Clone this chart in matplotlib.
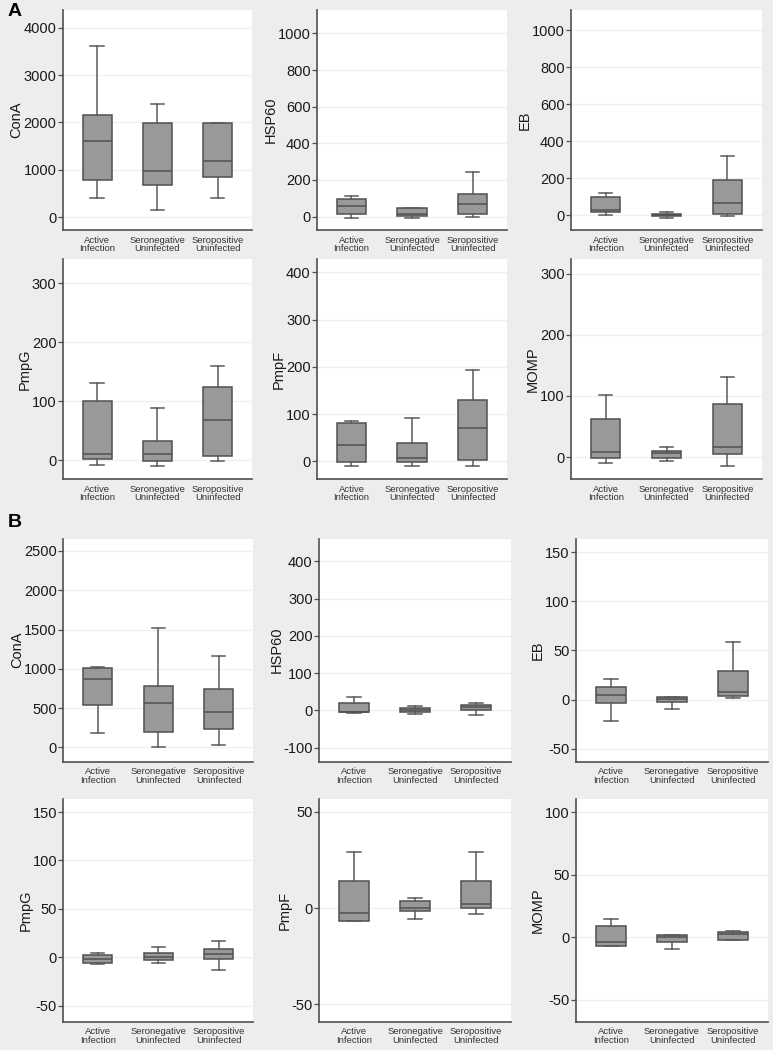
import numpy as np
import matplotlib
matplotlib.use("Agg")
import matplotlib.pyplot as plt

plt.rcParams['font.family'] = ['Liberation Sans', 'DejaVu Sans']

groups = ["Active\nInfection", "Seronegative\nUninfected", "Seropositive\nUninfected"]
markers = ["ConA", "HSP60", "EB", "PmpG", "PmpF", "MOMP"]

# box stats per group: (whisker low, q1, median, q3, whisker high)
A_ConA = [(395, 790, 1601, 2166, 3626), (141, 670, 966, 1989, 2392), (409, 853, 1192, 1980, 1995)]
A_HSP60 = [(-9, 16, 58, 95, 110), (-7, 4, 13, 46, 48), (-2, 16, 68, 121, 245)]
A_EB = [(2, 18, 27, 96, 119), (-14, -4, 0, 5, 18), (-5, 9, 65, 190, 322)]
A_PmpG = [(-8, 2, 11, 101, 131), (-10, -1, 10, 33, 88), (-1, 8, 68, 125, 159)]
A_PmpF = [(-10, -1, 35, 81, 85), (-10, -1, 7, 40, 92), (-10, 4, 70, 129, 193)]
A_MOMP = [(-9, -2, 9, 62, 101), (-7, -1, 6, 10, 16), (-15, 5, 16, 87, 131)]

B_ConA = [(183, 544, 872, 1016, 1020), (0, 191, 570, 782, 1514), (34, 230, 451, 748, 1165)]
B_HSP60 = [(-8, -4, -3, 21, 35), (-9, -3, 1, 6, 13), (-13, 1, 8, 14, 21)]
B_EB = [(-21.6, -3.8, 5, 13, 20.5), (-9.2, -2.7, 0.3, 2.4, 2.4), (1.7, 3.4, 7.9, 29.5, 58.6)]
B_PmpG = [(-6.8, -6.5, -2, 2.4, 4.8), (-5.8, -2.7, 0.3, 3.8, 10.3), (-13.7, -1.7, 3.1, 8.2, 17.1)]
B_PmpF = [(-6.8, -6.8, -2.6, 13.9, 29.4), (-5.7, -1.6, 0.3, 3.8, 5.2), (-3.1, -0.2, 2.3, 13.9, 29.4)]
B_MOMP = [(-7.4, -7.4, -4, 8.5, 14.6), (-9.3, -4, -0.3, 1.6, 1.6), (-2.7, -2.1, 2.4, 3.7, 4.8)]

A_ticks = [list(range(0, 4001, 1000)), list(range(0, 1001, 200)), list(range(0, 1001, 200)),
           list(range(0, 301, 100)), list(range(0, 401, 100)), list(range(0, 301, 100))]
B_ticks = [list(range(0, 2501, 500)), list(range(-100, 401, 100)), list(range(-50, 151, 50)),
           list(range(-50, 151, 50)), [-50, 0, 50], [-50, 0, 50, 100]]

A_ylim = [(-275, 4380), (-73, 1128), (-80, 1108), (-31.5, 341), (-37, 428), (-36, 324)]
B_ylim = [(-179, 2658), (-137, 461), (-63, 164), (-66.5, 164), (-59, 57), (-67.6, 111)]

# axes rectangles in pixels
W, H = 773, 1050
rows_px = [(10, 230), (259, 479), (538.5, 761.5), (798.5, 1021.5)]
cols_top = [(62.7, 252), (317, 507), (571, 762)]
cols_bot = [(63.3, 253), (319, 511), (576, 768)]

bg = '#ededed'
dark = '#505050'

fig = plt.figure(figsize=(W / 100, H / 100), dpi=100, facecolor=bg)

def draw(ax, data, ticks, ylim, label):
    stats = [dict(whislo=d[0], q1=d[1], med=d[2], q3=d[3], whishi=d[4], fliers=[]) for d in data]
    ax.bxp(stats, positions=[1, 2, 3], widths=0.48, patch_artist=True, showfliers=False,
           boxprops=dict(facecolor='#999999', edgecolor=dark, linewidth=1.1),
           medianprops=dict(color=dark, linewidth=1.1),
           whiskerprops=dict(color='#5a5a5a', linewidth=1.1),
           capprops=dict(color='#5a5a5a', linewidth=1.1), capwidths=0.22)
    ax.set_xlim(0.43, 3.57)
    ax.set_ylim(*ylim)
    ax.set_yticks(ticks)
    ax.set_yticklabels([str(t) for t in ticks], fontsize=10.5, color='#1a1a1a')
    ax.set_xticks([1, 2, 3])
    ax.set_xticklabels(groups, fontsize=6.8, color='#333333', linespacing=0.95)
    ax.tick_params(axis='x', length=0, pad=4)
    ax.tick_params(axis='y', length=3.5, width=0.9, color=dark, pad=1)
    ax.set_ylabel(label, fontsize=10.5, color='#1a1a1a', labelpad=0)
    ax.set_facecolor('white')
    for s in ['top', 'right']:
        ax.spines[s].set_visible(False)
    for s in ['left', 'bottom']:
        ax.spines[s].set_color(dark)
        ax.spines[s].set_linewidth(1.2)
    ax.yaxis.grid(True, color='#f0f0f0', linewidth=1.0)
    ax.set_axisbelow(True)

A_data = [A_ConA, A_HSP60, A_EB, A_PmpG, A_PmpF, A_MOMP]
B_data = [B_ConA, B_HSP60, B_EB, B_PmpG, B_PmpF, B_MOMP]

for part, (datas, tks, lims) in enumerate([(A_data, A_ticks, A_ylim), (B_data, B_ticks, B_ylim)]):
    for i in range(6):
        r = part * 2 + i // 3
        c = i % 3
        top, bot = rows_px[r]
        left, right = (cols_top if part == 0 else cols_bot)[c]
        ax = fig.add_axes([left / W, 1 - bot / H, (right - left) / W, (bot - top) / H])
        draw(ax, datas[i], tks[i], lims[i], markers[i])

fig.text(8 / W, 1 - 3 / H, "A", fontsize=14, fontweight='bold', va='top', ha='left')
fig.text(8 / W, 1 - 514 / H, "B", fontsize=14, fontweight='bold', va='top', ha='left')

fig.savefig("out.png", dpi=100, facecolor=bg)
